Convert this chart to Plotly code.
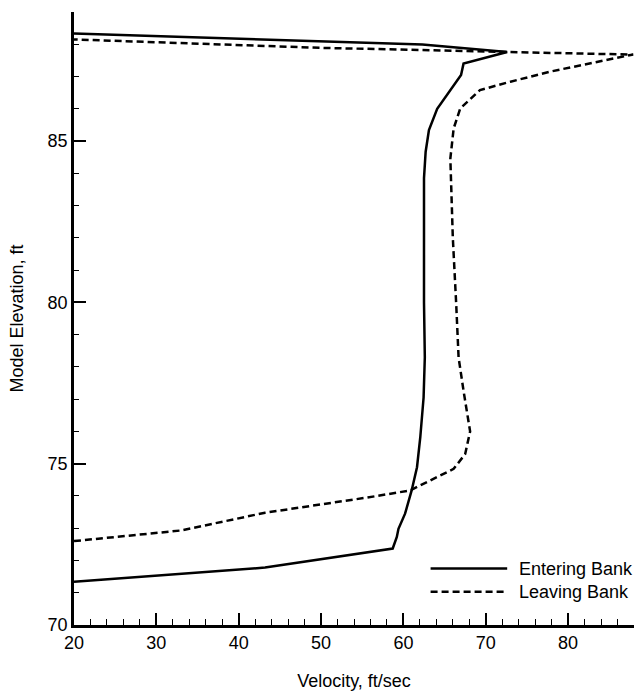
import plotly.graph_objects as go

# Entering Bank (solid) : velocity (ft/sec) vs model elevation (ft)
entering_velocity = [20.0, 43.2, 58.7, 59.2, 59.4, 60.2, 61.0, 61.65, 62.05, 62.45, 62.6,
                     62.5, 62.5, 62.5, 62.7, 63.1, 64.1, 67.0, 67.3, 72.6, 62.3, 20.0]
entering_elev = [71.34, 71.78, 72.37, 72.73, 72.98, 73.45, 74.17, 74.89, 75.82, 77.05, 78.3,
                 80.0, 82.0, 83.85, 84.67, 85.34, 86.0, 87.05, 87.4, 87.76, 87.99, 88.33]

# Leaving Bank (dashed)
leaving_velocity = [20.0, 33.0, 43.2, 50.6, 55.6, 60.8, 63.7, 66.1, 67.5, 68.1, 67.3, 66.7,
                    66.4, 66.0, 65.7, 66.1, 66.9, 69.3, 73.0, 77.8, 85.5, 87.9, 72.6, 59.6,
                    49.9, 20.0]
leaving_elev = [72.6, 72.93, 73.48, 73.76, 73.95, 74.17, 74.53, 74.84, 75.3, 76.0, 77.26, 78.29,
                80.0, 82.0, 84.46, 85.39, 86.01, 86.58, 86.84, 87.15, 87.56, 87.68, 87.76, 87.84,
                87.89, 88.15]

x_ticks = [20, 30, 40, 50, 60, 70, 80]
y_ticks = [70, 75, 80, 85]
series_names = ["Entering Bank", "Leaving Bank"]

FONT = "Liberation Sans, Arial, Helvetica, sans-serif"
FS = 18
DASH = "7px,4px"

fig = go.Figure()
fig.add_trace(go.Scatter(x=entering_velocity, y=entering_elev, mode="lines",
                         name=series_names[0], line=dict(color="black", width=2.5),
                         showlegend=False))
fig.add_trace(go.Scatter(x=leaving_velocity, y=leaving_elev, mode="lines",
                         name=series_names[1], line=dict(color="black", width=2.5, dash=DASH),
                         showlegend=False))

# Custom legend (long line samples like the reference)
legend_rows = [(71.75, "solid"), (71.03, DASH)]
for (yv, dash), name in zip(legend_rows, series_names):
    fig.add_shape(type="line", xref="x", yref="y", x0=63.3, x1=72.6, y0=yv, y1=yv,
                  line=dict(color="black", width=2.5, dash=dash))
    fig.add_annotation(xref="x", yref="y", x=73.8, y=yv, text=name, showarrow=False,
                       xanchor="left", yanchor="middle",
                       font=dict(family=FONT, size=FS, color="black"))

fig.update_layout(
    width=639, height=694,
    margin=dict(l=74, r=5, t=12, b=66),
    paper_bgcolor="white", plot_bgcolor="white",
    font=dict(family=FONT, size=FS, color="black"),
    showlegend=False,
)
fig.update_xaxes(
    range=[20, 88], tickvals=x_ticks, ticks="inside", ticklen=12, tickwidth=1.5,
    tickcolor="black", showline=True, linecolor="black", linewidth=2.5,
    showgrid=False, zeroline=False,
    minor=dict(dtick=2, tick0=20, ticks="inside", ticklen=6, tickwidth=1.2, tickcolor="black",
               showgrid=False),
    title=dict(text="Velocity, ft/sec", standoff=23, font=dict(size=FS)),
    tickfont=dict(size=FS),
)
fig.update_yaxes(
    range=[70, 89], tickvals=y_ticks, ticks="inside", ticklen=12, tickwidth=1.5,
    tickcolor="black", showline=True, linecolor="black", linewidth=2.5,
    showgrid=False, zeroline=False,
    minor=dict(dtick=1, tick0=70, ticks="inside", ticklen=5, tickwidth=1.2, tickcolor="black",
               showgrid=False),
    title=dict(text="Model Elevation, ft", standoff=20, font=dict(size=FS)),
    tickfont=dict(size=FS),
)

fig.write_html("out.html", config={"displayModeBar": False},
               post_script="document.body.style.margin='0';")
